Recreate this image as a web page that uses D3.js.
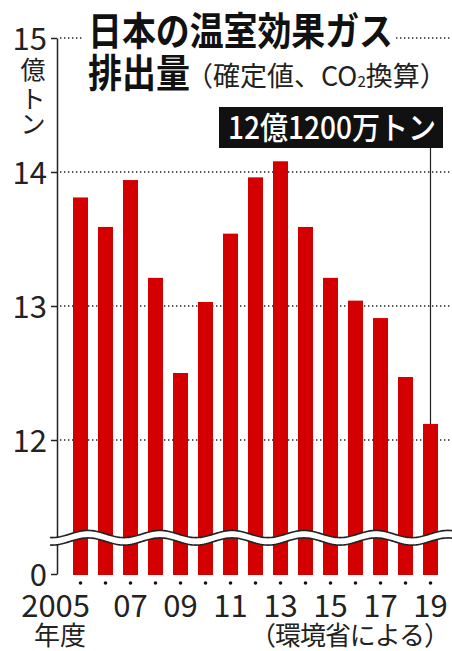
<!DOCTYPE html>
<html>
<head>
<meta charset="utf-8">
<script src="https://cdn.jsdelivr.net/npm/d3@7"></script>
<style>
  body { margin: 0; background: #fff; }
  text { font-family: "Noto Sans CJK JP", "Noto Sans", sans-serif; }
  .tick line { stroke: #222; }
</style>
</head>
<body>
<div id="vis"></div>
<script>
// Greenhouse gas emissions bar chart (broken y axis)

/* *************************** Data ***************************** */
var years = [2005, 2006, 2007, 2008, 2009, 2010, 2011, 2012, 2013, 2014, 2015, 2016, 2017, 2018, 2019];
var emissions = [13.81, 13.59, 13.94, 13.21, 12.50, 13.03, 13.54, 13.96, 14.08, 13.59, 13.21, 13.04, 12.91, 12.47, 12.12];
var labelYears = [2005, 2007, 2009, 2011, 2013, 2015, 2017, 2019];
var yearLabels = ['2005', '07', '09', '11', '13', '15', '17', '19'];
var yTicks = [0, 12, 13, 14, 15];
var gridTicks = [12, 13, 14, 15];

var data = years.map(function(y, i) {
    return { year: y, value: emissions[i] };
});

/* *************************** Settings ***************************** */
var width = 452;
var height = 651;
var axisX = 57;

var svg = d3.select('#vis')
    .append('svg')
    .attr('width', width)
    .attr('height', height);

// x scale: one band per year
var xScale = d3.scaleBand()
    .domain(years)
    .range([68, 443])
    .paddingInner(0.4)
    .paddingOuter(0.2);

// y scale: broken between 0 and 12 (polylinear)
var yScale = d3.scaleLinear()
    .domain([0, 11.25, 15])
    .range([574, 540.5, 38]);

/* *************************** Grid ***************************** */
svg.append('g')
    .selectAll('line')
    .data(gridTicks)
    .enter().append('line')
    .attr('x1', axisX + 3)
    .attr('x2', width)
    .attr('y1', function(d) { return yScale(d); })
    .attr('y2', function(d) { return yScale(d); })
    .attr('stroke', '#222')
    .attr('stroke-width', 1.4)
    .attr('stroke-dasharray', '1.4,2.6');

/* *************************** Bars ***************************** */
svg.append('g')
    .selectAll('rect')
    .data(data)
    .enter().append('rect')
    .attr('x', function(d) { return xScale(d.year); })
    .attr('width', xScale.bandwidth())
    .attr('y', function(d) { return yScale(d.value); })
    .attr('height', function(d) { return yScale(0) + 1 - yScale(d.value); })
    .attr('fill', '#d40000');

// dots under each bar
svg.append('g')
    .selectAll('circle')
    .data(data)
    .enter().append('circle')
    .attr('cx', function(d) { return xScale(d.year) + xScale.bandwidth() / 2; })
    .attr('cy', 583)
    .attr('r', 1.8)
    .attr('fill', '#111');

/* *************************** Y axis ***************************** */
var yAxis = d3.axisLeft(yScale)
    .tickValues(yTicks)
    .tickSize(6)
    .tickSizeOuter(0)
    .tickPadding(4);

var yAxisG = svg.append('g')
    .attr('transform', 'translate(' + axisX + ',0)')
    .call(yAxis);

yAxisG.select('.domain').attr('stroke', '#222').attr('stroke-width', 1.5);
yAxisG.selectAll('.tick line').attr('stroke-width', 1.5);
yAxisG.selectAll('text')
    .attr('font-size', 31)
    .attr('fill', '#222')
    .attr('dy', '0.36em');

// unit label (vertical)
var unitChars = ['億', 'ト', 'ン'];
var unitY = [79, 108, 133];
svg.append('g')
    .selectAll('text')
    .data(unitChars)
    .enter().append('text')
    .attr('x', 33)
    .attr('y', function(d, i) { return unitY[i]; })
    .attr('text-anchor', 'middle')
    .attr('font-size', 25)
    .attr('fill', '#222')
    .text(function(d) { return d; });

/* *************************** Wave (axis break) ***************************** */
var waveX = d3.range(50, width + 2, 2);
var wave = function(base) {
    return function(x) { return base - 3.6 * Math.cos(2 * Math.PI * (x - 88) / 72); };
};
var upper = wave(534);
var lower = wave(541.5);

svg.append('path')
    .datum(waveX)
    .attr('d', d3.area().x(function(x) { return x; }).y0(upper).y1(lower))
    .attr('fill', '#fff');

[upper, lower].forEach(function(f) {
    svg.append('path')
        .datum(waveX)
        .attr('d', d3.line().x(function(x) { return x; }).y(f))
        .attr('fill', 'none')
        .attr('stroke', '#222')
        .attr('stroke-width', 1.6);
});

/* *************************** X axis ***************************** */
var xAxis = d3.axisBottom(xScale)
    .tickValues(labelYears)
    .tickFormat(function(d) { return yearLabels[labelYears.indexOf(d)]; })
    .tickSize(0);

var xAxisG = svg.append('g')
    .attr('transform', 'translate(0,575)')
    .call(xAxis);

xAxisG.select('.domain').remove();
xAxisG.selectAll('text')
    .attr('font-size', 31)
    .attr('fill', '#222')
    .attr('y', 42)
    .attr('dy', 0);

// first label ends at the bar's right edge
xAxisG.selectAll('.tick')
    .filter(function(d) { return d === 2005; })
    .select('text')
    .attr('text-anchor', 'end')
    .attr('x', xScale.bandwidth() / 2 + 2);

svg.append('text')
    .attr('x', 34)
    .attr('y', 645)
    .attr('font-size', 26)
    .attr('fill', '#222')
    .text('年度');

svg.append('text')
    .attr('x', 250)
    .attr('y', 645)
    .attr('font-size', 26)
    .attr('fill', '#222')
    .attr('textLength', 200)
    .attr('lengthAdjust', 'spacing')
    .text('（環境省による）');

/* *************************** Title ***************************** */
svg.append('rect')
    .attr('x', 84)
    .attr('y', 26)
    .attr('width', 312)
    .attr('height', 22)
    .attr('fill', '#fff');

svg.append('text')
    .attr('x', 88)
    .attr('y', 45)
    .attr('font-size', 39)
    .attr('font-weight', 700)
    .attr('fill', '#111')
    .attr('textLength', 305)
    .attr('lengthAdjust', 'spacingAndGlyphs')
    .text('日本の温室効果ガス');

svg.append('text')
    .attr('x', 88)
    .attr('y', 87)
    .attr('font-size', 39)
    .attr('font-weight', 700)
    .attr('fill', '#111')
    .attr('textLength', 102)
    .attr('lengthAdjust', 'spacingAndGlyphs')
    .text('排出量');

var sub = svg.append('text')
    .attr('x', 186)
    .attr('y', 86)
    .attr('font-size', 27)
    .attr('fill', '#222');
sub.append('tspan').text('（確定値、CO');
sub.append('tspan').attr('font-size', 15).attr('dy', 1).text('2');
sub.append('tspan').attr('dy', -1).text('換算）');

/* *************************** Annotation ***************************** */
var last = data[data.length - 1];
var lastX = xScale(last.year) + xScale.bandwidth() / 2;

svg.append('line')
    .attr('x1', lastX)
    .attr('x2', lastX)
    .attr('y1', 147)
    .attr('y2', yScale(last.value))
    .attr('stroke', '#222')
    .attr('stroke-width', 1.2);

svg.append('rect')
    .attr('x', 219)
    .attr('y', 107)
    .attr('width', 224)
    .attr('height', 41)
    .attr('fill', '#111');

svg.append('text')
    .attr('x', 228)
    .attr('y', 139)
    .attr('font-size', 31)
    .attr('font-weight', 500)
    .attr('fill', '#fff')
    .attr('textLength', 208)
    .attr('lengthAdjust', 'spacingAndGlyphs')
    .text('12億1200万トン');
</script>
</body>
</html>
